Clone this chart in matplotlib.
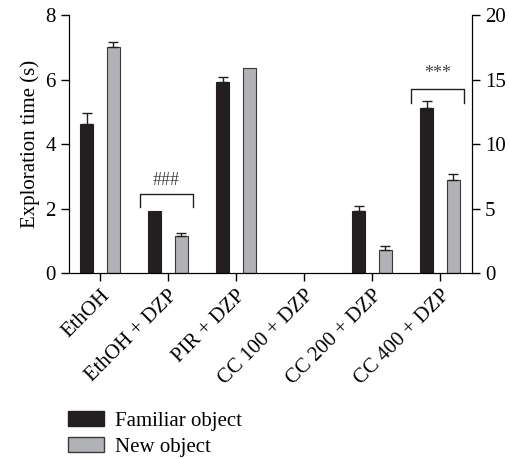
import numpy as np
import matplotlib.pyplot as plt
from matplotlib.patches import Patch

plt.rcParams['font.family'] = ['Liberation Serif', 'DejaVu Serif']

groups = ["EthOH", "EthOH + DZP", "PIR + DZP", "CC 100 + DZP", "CC 200 + DZP", "CC 400 + DZP"]
familiar = [4.62, 1.92, 5.93, 0, 1.93, 5.13]
familiar_err = [0.34, 0, 0.16, 0, 0.16, 0.19]
new = [7.02, 1.16, 6.35, 0, 0.72, 2.88]
new_err = [0.15, 0.07, 0, 0, 0.13, 0.18]

black = "#231f20"
grey = "#b1b2b5"

fig = plt.figure(figsize=(5.1, 4.58), dpi=100)
ax = fig.add_axes([0.135, 0.404, 0.79, 0.563])

x = np.arange(len(groups))
w = 0.19
off = 0.195
lw_f = [0.8 if v > 0 else 0 for v in familiar]
lw_n = [0.8 if v > 0 else 0 for v in new]
ax.bar(x - off, familiar, w, color=black, edgecolor=black, linewidth=lw_f, zorder=2)
ax.bar(x + off, new, w, color=grey, edgecolor="#3a3a3a", linewidth=lw_n, zorder=2)

# error bars only where there is an error
for pos, vals, errs in [(x - off, familiar, familiar_err), (x + off, new, new_err)]:
    vals = np.array(vals)
    errs = np.array(errs)
    m = errs > 0
    ax.errorbar(pos[m], vals[m], yerr=[np.zeros(m.sum()), errs[m]], fmt="none",
                ecolor=black, elinewidth=1, capsize=3.5, capthick=1, zorder=3)

# significance brackets
def bracket(xc, y_top, y_leg, label, y_text):
    xl, xr = xc - 0.42, xc + 0.36
    ax.plot([xl, xl, xr, xr], [y_leg, y_top, y_top, y_leg], color=black, lw=1)
    ax.text((xl + xr) / 2, y_text, label, ha="center", va="center", fontsize=13, color="#444444")

bracket(1, 2.45, 2.06, "###", 2.88)
bracket(5, 5.70, 5.28, "***", 6.2)

ax.set_xlim(-0.46, 5.47)
ax.set_ylim(0, 8)
ax.set_yticks([0, 2, 4, 6, 8])
ax.set_xticks(x)
ax.set_xticklabels(groups, rotation=45, ha="right", rotation_mode="anchor")
ax.set_ylabel("Exploration time (s)", fontsize=15)
ax.tick_params(axis="both", labelsize=15, length=6, width=1, direction="out")
ax.spines["top"].set_visible(False)

ax2 = ax.twinx()
ax2.set_ylim(0, 20)
ax2.set_yticks([0, 5, 10, 15, 20])
ax2.tick_params(axis="y", labelsize=15, length=6, width=1)
ax2.spines["top"].set_visible(False)

handles = [Patch(facecolor=black, edgecolor=black), Patch(facecolor=grey, edgecolor="#3a3a3a")]
fig.legend(handles, ["Familiar object", "New object"], loc="upper left",
           bbox_to_anchor=(0.117, 0.12), frameon=False, fontsize=15,
           handlelength=1.75, handleheight=0.7, labelspacing=0.3, handletextpad=0.5,
           borderaxespad=0)

plt.savefig("out.png", dpi=100)
